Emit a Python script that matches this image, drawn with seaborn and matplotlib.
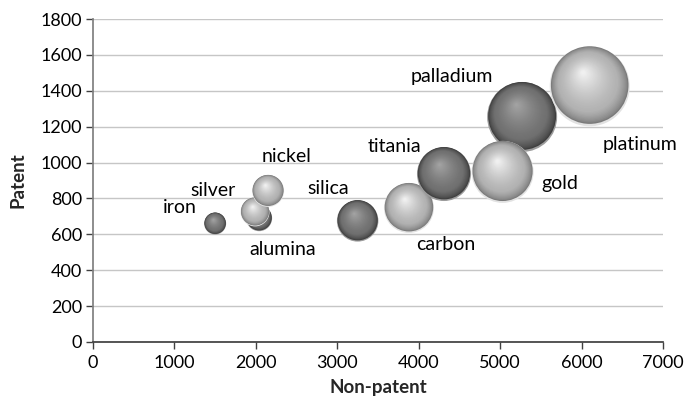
import numpy as np
import matplotlib
matplotlib.use("Agg")
import matplotlib.pyplot as plt
from matplotlib.transforms import offset_copy
import seaborn as sns
import pandas as pd

# ---- data ----
names = ["iron", "alumina", "silver", "nickel", "silica", "carbon",
         "titania", "palladium", "gold", "platinum"]
non_patent = [1500, 2040, 1990, 2150, 3250, 3880, 4310, 5270, 5030, 6100]
patent = [660, 690, 725, 842, 675, 747, 936, 1254, 948, 1425]
bubble = [121, 169, 210, 256, 430, 625, 729, 1225, 961, 1600]
tone = ["dark", "dark", "light", "light", "dark", "light",
        "dark", "dark", "light", "light"]
x_ticks = [0, 1000, 2000, 3000, 4000, 5000, 6000, 7000]
y_ticks = [0, 200, 400, 600, 800, 1000, 1200, 1400, 1600, 1800]

df = pd.DataFrame({"name": names, "x": non_patent, "y": patent,
                   "size": bubble, "tone": tone})

# label offsets in pixels (dx right, dy down)
label_off = {"iron": (-35, -16), "alumina": (24, 31), "silver": (-42, -21),
             "nickel": (18, -34), "silica": (-29, -32), "carbon": (37, 37),
             "titania": (-50, -28), "palladium": (-70, -40), "gold": (57, 12),
             "platinum": (50, 58)}

sns.set_theme(style="white")
plt.rcParams["font.family"] = ["Lato", "DejaVu Sans"]

fig = plt.figure(figsize=(6.87, 4.03), dpi=100)
ax = fig.add_axes([93 / 687, 61 / 403, 570 / 687, 323 / 403])

ax.set_xlim(0, 7000)
ax.set_ylim(0, 1800)
ax.set_xticks(x_ticks)
ax.set_yticks(y_ticks)
ax.yaxis.grid(True, color="#c6c6c6", linewidth=1.0)
ax.set_axisbelow(True)
for s in ["top", "right"]:
    ax.spines[s].set_visible(False)
ax.spines["left"].set_color("#808080")
ax.spines["bottom"].set_color("#404040")
ax.tick_params(axis="both", direction="out", length=5, width=1,
               colors="#404040", labelcolor="black", labelsize=13)
ax.tick_params(axis="x", bottom=True, pad=4)
ax.tick_params(axis="y", left=True, pad=3)
ax.set_xlabel("Non-patent", fontsize=13.5, fontweight="bold", labelpad=6)
ax.set_ylabel("Patent", fontsize=13.5, fontweight="bold", labelpad=10)

# base bubbles via seaborn
px_to_pt = 72 / fig.dpi
radius_px = np.sqrt(df["size"].values)
df["s"] = (2 * radius_px * px_to_pt) ** 2

palettes = {
    "dark": {"reflect": "#9c9c9c", "rim": "#3e3e3e", "mid": "#707070", "hi": "#a6a6a6"},
    "light": {"reflect": "#e2e2e2", "rim": "#7a7a7a", "mid": "#b2b2b2", "hi": "#f6f6f6"},
}


def mix(c1, c2, t):
    a = np.array(matplotlib.colors.to_rgb(c1))
    b = np.array(matplotlib.colors.to_rgb(c2))
    return tuple(a + (b - a) * t)


n_layers = 40
z = 3
for i, row in df.iterrows():
    pal = palettes[row["tone"]]
    r_pt = radius_px[i] * px_to_pt
    # reflection base
    sns.scatterplot(x=[row["x"]], y=[row["y"]], s=row["s"], color=pal["reflect"],
                    edgecolor="none", linewidth=0, ax=ax, zorder=z, legend=False)
    z += 1
    for k in range(n_layers):
        u = k / n_layers
        frac = 0.97 * (1 - u)
        if frac < 0.03:
            break
        dx = -0.17 * u * r_pt
        dy = 0.33 * u * r_pt + 0.03 * r_pt
        if u < 0.22:
            col = mix(pal["rim"], pal["mid"], (u / 0.22) ** 0.7)
        else:
            col = mix(pal["mid"], pal["hi"], ((u - 0.22) / 0.78) ** 1.3)
        tr = offset_copy(ax.transData, fig=fig, x=dx, y=dy, units="points")
        ax.scatter([row["x"]], [row["y"]], s=(2 * r_pt * frac) ** 2, color=col,
                   edgecolors="none", linewidths=0, transform=tr, zorder=z)
        z += 1

for i, row in df.iterrows():
    dx, dy = label_off[row["name"]]
    ax.annotate(row["name"], (row["x"], row["y"]),
                xytext=(dx * px_to_pt, -dy * px_to_pt), textcoords="offset points",
                ha="center", va="center", fontsize=14, color="black", zorder=1000)

fig.savefig("out.png", dpi=100)
